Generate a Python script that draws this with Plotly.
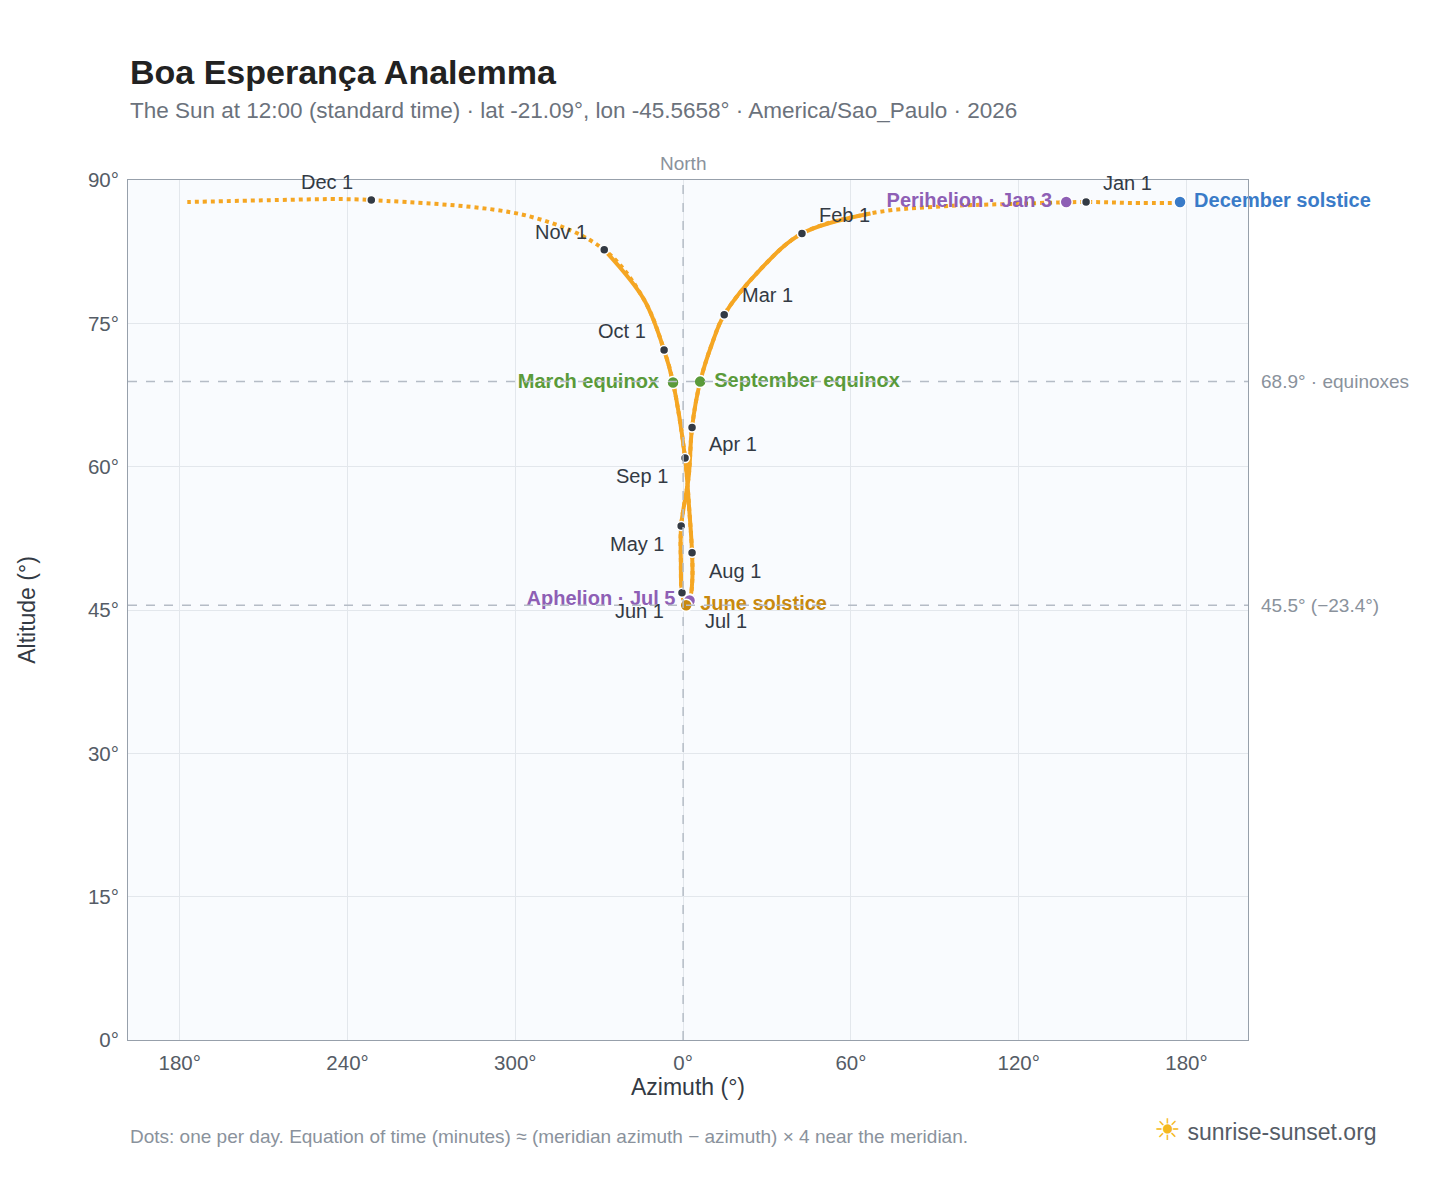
import plotly.graph_objects as go

# Path of the sun at 12:00 (Dec 21 -> Dec 20)
az = [177.7, 160, 144.1, 118, 90, 67, 42.5, 27.5, 14.7, 10.5, 6.1, 3.2, 2.0, -0.7, -0.8, -0.4, 1.1, 2.5, 3.3, 3.2, 2.2, 0.7, -3.6, -6.8, -14, -28.2, -55, -111.5, -126, -145, -177.3]
alt = [87.6, 87.6, 87.7, 87.5, 87.2, 86.5, 84.4, 80.6, 75.9, 73.0, 68.9, 64.1, 59.0, 53.8, 50.0, 46.8, 45.5, 46.2, 48.2, 51.0, 55.5, 60.9, 68.8, 72.2, 77.5, 82.7, 86.2, 87.9, 88.0, 87.9, 87.7]

months = ["Jan 1", "Feb 1", "Mar 1", "Apr 1", "May 1", "Jun 1", "Jul 1", "Aug 1", "Sep 1", "Oct 1", "Nov 1", "Dec 1"]
m_az = [144.1, 42.5, 14.7, 3.2, -0.7, -0.4, 2.5, 3.2, 0.7, -6.8, -28.2, -111.5]
m_alt = [87.7, 84.4, 75.9, 64.1, 53.8, 46.8, 46.2, 51.0, 60.9, 72.2, 82.7, 87.9]
m_shift = [(41, 19), (43, 19), (43, 20), (41, -17), (-44, -18), (-42, -18), (36, -22), (43, -18), (-43, -18), (-42, 19), (-43, 18), (-44, 18)]

fig = go.Figure()
fig.add_trace(go.Scatter(x=az, y=alt, mode="lines", line=dict(color="#f5a623", width=4, dash="dot", shape="spline"), hoverinfo="skip"))
fig.add_trace(go.Scatter(x=az[5:26], y=alt[5:26], mode="lines", line=dict(color="#f5a623", width=4, shape="spline"), hoverinfo="skip"))
fig.add_trace(go.Scatter(x=m_az, y=m_alt, mode="markers", marker=dict(color="#333a44", size=9, line=dict(color="white", width=1.5))))

special = [
    ("December solstice", 177.7, 87.7, "#3a7bc8", "middle right"),
    ("Perihelion · Jan 3", 137.0, 87.7, "#8e5fb5", "middle left"),
    ("March equinox", -3.6, 68.8, "#5a9a3a", "middle left"),
    ("September equinox", 6.1, 68.9, "#5a9a3a", "middle right"),
    ("Aphelion · Jul 5", 2.3, 46.0, "#8e5fb5", "middle left"),
    ("June solstice", 1.1, 45.5, "#c8890e", "middle right"),
]
for name, x, y, c, tp in special:
    fig.add_trace(go.Scatter(x=[x], y=[y], mode="markers+text", text=[" " + name + " "], textposition=tp, cliponaxis=False,
                             textfont=dict(color=c, size=20, family="Liberation Sans", weight="bold"),
                             marker=dict(color=c, size=12, line=dict(color="white", width=1.5))))

for m, x, y, (dx, dy) in zip(months, m_az, m_alt, m_shift):
    fig.add_annotation(x=x, y=y, text=m, showarrow=False, xshift=dx, yshift=dy, font=dict(size=20, color="#333a44"))

for yv, lab in [(68.9, "68.9° · equinoxes"), (45.5, "45.5° (−23.4°)")]:
    fig.add_shape(type="line", xref="paper", x0=0, x1=1, y0=yv, y1=yv, line=dict(color="#b5bcc6", width=1.5, dash="dash"))
    fig.add_annotation(xref="paper", x=1.01, y=yv, text=lab, showarrow=False, xanchor="left", font=dict(size=19, color="#8a929c"))
fig.add_shape(type="line", x0=0, x1=0, yref="paper", y0=0, y1=1, line=dict(color="#b5bcc6", width=1.5, dash="dash"))
fig.add_annotation(x=0, yref="paper", y=1.0, text="North", showarrow=False, yanchor="bottom", yshift=4, font=dict(size=19, color="#8a929c"))

fig.add_annotation(xref="paper", yref="paper", x=0, y=1.101, xanchor="left", yanchor="bottom", showarrow=False,
                   text="<b>Boa Esperança Analemma</b>", font=dict(size=34, color="#222"))
fig.add_annotation(xref="paper", yref="paper", x=0, y=1.064, xanchor="left", yanchor="bottom", showarrow=False,
                   text="The Sun at 12:00 (standard time) · lat -21.09°, lon -45.5658° · America/Sao_Paulo · 2026", font=dict(size=22.5, color="#6b727c"))
fig.add_annotation(xref="paper", yref="paper", x=0, y=-0.098, xanchor="left", yanchor="top", showarrow=False,
                   text="Dots: one per day. Equation of time (minutes) ≈ (meridian azimuth − azimuth) × 4 near the meridian.",
                   font=dict(size=19, color="#8a929c"))
fig.add_annotation(xref="paper", yref="paper", x=1.117, y=-0.083, xanchor="right", yanchor="top", showarrow=False,
                   text="<span style='color:#f5b820;font-size:30px'>☀</span> sunrise-sunset.org", font=dict(size=23, color="#555c66"))

fig.update_layout(
    width=1440, height=1180, showlegend=False,
    margin=dict(l=120, r=200, t=172, b=148),
    paper_bgcolor="white", plot_bgcolor="#f9fbfe",
    font=dict(family="Liberation Sans", size=20, color="#555c66"),
    xaxis=dict(range=[-198.5, 202], tickvals=[-180, -120, -60, 0, 60, 120, 180], ticktext=["180°", "240°", "300°", "0°", "60°", "120°", "180°"],
               gridcolor="#e3e7ec", zeroline=False, showline=True, linecolor="#97a0ab", mirror=True, ticks="outside", ticklen=4, tickcolor="white",
               tickfont=dict(size=20.5), title=dict(text="Azimuth (°)", font=dict(size=23, color="#333a44"), standoff=6)),
    yaxis=dict(range=[0, 90], tickvals=[0, 15, 30, 45, 60, 75, 90], ticktext=["0°", "15°", "30°", "45°", "60°", "75°", "90°"], gridcolor="#e3e7ec", zeroline=False,
               showline=True, linecolor="#97a0ab", mirror=True, ticks="outside", ticklen=4, tickcolor="white",
               tickfont=dict(size=20.5), title=dict(text="Altitude (°)", font=dict(size=23, color="#333a44"), standoff=45)),
)
fig.write_html("out.html")
